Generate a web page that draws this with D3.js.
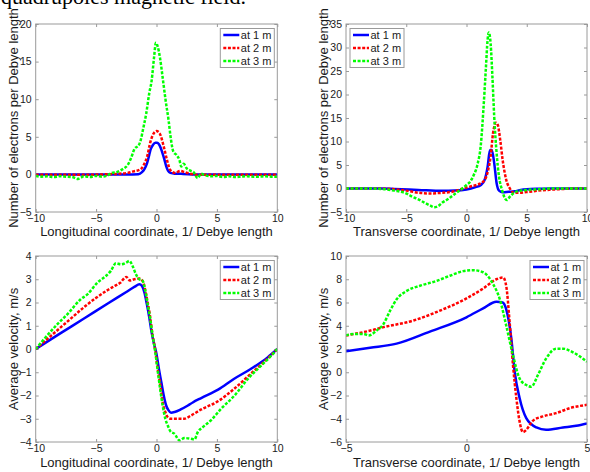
<!DOCTYPE html>
<html>
<head>
<meta charset="utf-8">
<script src="https://cdn.jsdelivr.net/npm/d3@7"></script>
<style>
  body { margin: 0; background: #fff; }
  svg { display: block; font-family: Arial, "Liberation Sans", sans-serif; }
</style>
</head>
<body>
<svg id="fig" width="590" height="472"></svg>
<script>
// legend / series
const seriesNames = ["at 1 m", "at 2 m", "at 3 m"];
const seriesColors = ["#0000ff", "#ff0000", "#00ff00"];

// tick values
const xTicksWide = [-10, -5, 0, 5, 10];
const xTicksNarrow = [-5, 0, 5];
const yTicksDensLong = [-5, 0, 5, 10, 15, 20];
const yTicksDensTrans = [-5, 0, 5, 10, 15, 20, 25, 30, 35];
const yTicksVelLong = [-4, -3, -2, -1, 0, 1, 2, 3, 4];
const yTicksVelTrans = [-6, -4, -2, 0, 2, 4, 6, 8, 10];

// top-left: electrons per Debye length vs longitudinal coordinate
const densLong1 = [[-10,0],[-8,0],[-6,0],[-4,0],[-2,0],[-1.5,0.02],[-1.2,0.3],[-1.0,0.7],[-0.78,1.5],[-0.6,2.6],[-0.5,3.25],[-0.3,3.9],[-0.1,4.2],[0.05,4.2],[0.2,4.0],[0.35,3.5],[0.5,2.8],[0.65,2.0],[0.8,1.1],[0.95,0.5],[1.15,0.2],[1.5,0.1],[1.8,0.1],[2.2,0.05],[3,0],[5,0],[7,0],[10,0]];
const densLong2 = [[-10,-0.05],[-8,-0.05],[-6,-0.05],[-4.5,0],[-3.5,0.05],[-2.4,0.2],[-1.9,0.4],[-1.33,0.67],[-1.06,1.25],[-0.78,2.35],[-0.5,4.35],[-0.23,5.46],[0,5.77],[0.26,5.46],[0.6,3.7],[0.87,1.9],[1.14,0.58],[1.55,0.2],[1.97,0.45],[2.38,0.27],[2.93,0.04],[3.5,-0.05],[5,-0.05],[7,-0.05],[10,-0.05]];
const densLong3 = [[-10,-0.2],[-9.5,-0.3],[-9,-0.25],[-8.5,-0.35],[-8,-0.25],[-7.5,-0.3],[-7,-0.35],[-6.5,-0.6],[-6,-0.25],[-5.5,-0.35],[-5,-0.2],[-4.5,-0.3],[-4,-0.1],[-3.7,0.2],[-3.3,0.3],[-3,0.5],[-2.7,0.8],[-2.4,1.2],[-2.1,2.2],[-1.8,3.45],[-1.5,3.8],[-1.3,4.6],[-1.1,6.1],[-0.85,8.1],[-0.6,10.8],[-0.4,12.5],[-0.2,15.6],[-0.05,17.5],[0.1,17.0],[0.3,15.4],[0.5,13.0],[0.75,9.9],[1.0,7.2],[1.2,4.6],[1.4,3.0],[1.65,2.6],[1.9,1.9],[2.05,1.05],[2.25,1.4],[2.5,0.8],[2.8,0.5],[3.1,0.25],[3.4,-0.5],[3.7,0.1],[4.0,-0.1],[4.5,-0.25],[5,-0.2],[5.5,-0.35],[6,-0.25],[6.5,-0.35],[7,-0.3],[7.5,-0.25],[8,-0.3],[8.5,-0.3],[9,-0.25],[9.5,-0.3],[10,-0.3]];

// top-right: electrons per Debye length vs transverse coordinate
const densTrans1 = [[-10,0],[-8,0],[-7,-0.02],[-6,-0.1],[-4,-0.3],[-2,-0.5],[-1,-0.45],[0,-0.2],[0.7,0.25],[1.2,0.75],[1.5,1.8],[1.75,4.6],[1.95,8.2],[2.1,8.2],[2.3,5.4],[2.5,1.1],[2.7,-0.45],[3.0,-0.8],[3.5,-0.7],[4,-0.6],[4.5,-0.3],[5,-0.15],[6,-0.05],[7,0],[10,0]];
const densTrans2 = [[-10,0],[-8,0],[-7,-0.05],[-6,-0.15],[-5,-0.45],[-4,-0.9],[-3,-1.05],[-2,-0.9],[-1,-0.6],[-0.5,-0.15],[0,0.2],[0.5,0.55],[1,0.9],[1.5,1.8],[1.8,3.95],[2.0,6.8],[2.2,11.7],[2.45,14.0],[2.6,13.5],[2.8,10.3],[3.0,6.05],[3.3,1.8],[3.6,0],[3.9,-0.9],[4.3,-0.9],[5,-0.75],[6,-0.45],[7,-0.25],[8,-0.1],[9,0],[10,0]];
const densTrans3 = [[-10,0],[-8,0],[-7,-0.1],[-6,-0.45],[-5,-1.05],[-4.5,-1.75],[-4,-2.3],[-3.5,-3.0],[-3,-3.65],[-2.7,-4.0],[-2.3,-3.65],[-2,-3.0],[-1.5,-2.2],[-1,-1.2],[-0.5,-0.3],[0,0.75],[0.3,1.45],[0.6,2.85],[0.9,5.0],[1.2,9.6],[1.4,16.7],[1.6,25.2],[1.75,31.6],[1.85,33.2],[2.0,30.9],[2.15,23.8],[2.3,15.3],[2.5,7.5],[2.7,2.5],[2.95,-0.3],[3.2,-2.15],[3.35,-2.45],[3.6,-1.75],[4.0,-0.8],[4.5,-0.45],[5,-0.3],[6,-0.15],[7,0],[10,0]];

// bottom-left: average velocity vs longitudinal coordinate
const velLong1 = [[-10,0],[-8,0.66],[-6,1.31],[-4,1.97],[-2.5,2.45],[-1.8,2.68],[-1.42,2.79],[-1.2,2.71],[-1.0,2.43],[-0.8,1.93],[-0.6,1.36],[-0.4,0.71],[-0.2,0.21],[0,-0.21],[0.2,-0.86],[0.4,-1.43],[0.6,-2.0],[0.8,-2.43],[1.0,-2.64],[1.2,-2.74],[1.5,-2.71],[2,-2.6],[2.6,-2.43],[3,-2.3],[3.7,-2.11],[5.1,-1.75],[6.4,-1.29],[7.8,-0.86],[9.2,-0.36],[10,0]];
const velLong2 = [[-10,0],[-9,0.45],[-8,0.9],[-7,1.35],[-6,1.8],[-5,2.2],[-4,2.55],[-3.5,2.7],[-3,2.85],[-2.5,3.1],[-2.2,2.95],[-1.84,3.0],[-1.42,3.03],[-1.15,2.93],[-0.95,2.57],[-0.73,2.0],[-0.54,1.43],[-0.32,0.57],[-0.12,0],[0.1,-0.86],[0.32,-1.57],[0.51,-2.29],[0.73,-2.71],[0.93,-2.93],[1.2,-3.0],[1.76,-3.0],[2.3,-3.0],[2.86,-2.86],[3.7,-2.6],[5.08,-2.25],[6.46,-1.7],[7.84,-1.05],[9.22,-0.4],[10,0]];
const velLong3 = [[-10,0],[-9.3,0.43],[-8.2,1.07],[-7.37,1.5],[-6.27,2.14],[-5.7,2.36],[-4.88,2.86],[-4.19,3.14],[-3.78,3.36],[-3.36,3.69],[-2.95,3.64],[-2.53,3.71],[-2.25,3.79],[-1.98,3.57],[-1.7,3.21],[-1.42,3.0],[-1.15,2.93],[-0.95,2.57],[-0.73,1.93],[-0.54,1.36],[-0.32,0.57],[-0.12,-0.07],[0.1,-0.93],[0.32,-1.79],[0.51,-2.43],[0.73,-3.0],[0.93,-3.29],[1.2,-3.57],[1.48,-3.64],[1.9,-3.93],[2.3,-3.83],[2.86,-3.86],[3.14,-3.89],[3.42,-3.57],[3.83,-3.36],[4.5,-3.07],[5.35,-2.57],[6.46,-2.0],[7.56,-1.29],[8.67,-0.71],[9.5,-0.29],[10,0]];

// bottom-right: average velocity vs transverse coordinate
const velTrans1 = [[-5,1.8],[-4,2.1],[-2.9,2.46],[-1.52,3.5],[0,4.73],[0.69,5.5],[1.24,6.07],[1.5,6.0],[1.65,5.4],[1.86,2.9],[2.0,0.04],[2.2,-2.2],[2.48,-3.95],[2.9,-4.75],[3.3,-4.95],[4.0,-4.75],[4.55,-4.6],[5,-4.4]];
const velTrans2 = [[-5,3.17],[-4.27,3.45],[-3.44,3.88],[-2.2,4.45],[-1.1,5.3],[0,6.35],[0.69,7.2],[1.24,8.0],[1.52,8.15],[1.65,7.4],[1.79,4.3],[1.93,0.6],[2.07,-2.24],[2.2,-4.2],[2.34,-5.15],[2.48,-4.95],[2.75,-4.18],[3.17,-3.8],[3.72,-3.52],[4.27,-3.1],[5,-2.8]];
const velTrans3 = [[-5,3.17],[-4.68,3.3],[-4.27,3.3],[-4.06,3.17],[-3.72,3.6],[-3.44,4.16],[-3.17,5.3],[-2.89,6.3],[-2.48,7.0],[-1.93,7.44],[-1.24,7.86],[-0.69,8.3],[-0.14,8.7],[0.28,8.78],[0.69,8.6],[1.1,7.6],[1.38,6.3],[1.65,4.0],[1.93,1.46],[2.2,-0.53],[2.48,-1.1],[2.69,-1.25],[2.96,-0.25],[3.3,1.17],[3.72,2.03],[4.0,2.03],[4.4,1.74],[5,0.9]];

const svg = d3.select("#fig");

// heading text cut off at the top of the page
svg.append("text")
  .attr("x", 1)
  .attr("y", 3.5)
  .style("font-family", "'Liberation Serif', 'Times New Roman', serif")
  .style("font-size", "22px")
  .attr("fill", "#000")
  .text("quadrupoles magnetic field.");

const panels = [
  { box: [35.7, 24, 277.3, 212], xDom: [-10, 10], yDom: [-5, 20], xTicks: xTicksWide, yTicks: yTicksDensLong,
    xLabel: "Longitudinal coordinate, 1/ Debye length", yLabel: "Number of electrons per Debye length",
    series: [densLong1, densLong2, densLong3], legend: "right", labelGap: 23.5 },
  { box: [346, 24, 587, 212], xDom: [-10, 10], yDom: [-5, 35], xTicks: xTicksWide, yTicks: yTicksDensTrans,
    xLabel: "Transverse coordinate, 1/ Debye length", yLabel: "Number of electrons per Debye length",
    series: [densTrans1, densTrans2, densTrans3], legend: "left", labelGap: 23.5 },
  { box: [35.7, 256, 277.3, 442], xDom: [-10, 10], yDom: [-4, 4], xTicks: xTicksWide, yTicks: yTicksVelLong,
    xLabel: "Longitudinal coordinate, 1/ Debye length", yLabel: "Average velocity, m/s",
    series: [velLong1, velLong2, velLong3], legend: "right", labelGap: 25 },
  { box: [346, 256, 587, 442], xDom: [-5, 5], yDom: [-6, 10], xTicks: xTicksNarrow, yTicks: yTicksVelTrans,
    xLabel: "Transverse coordinate, 1/ Debye length", yLabel: "Average velocity, m/s",
    series: [velTrans1, velTrans2, velTrans3], legend: "right", labelGap: 25 }
];

const axisColor = "#9a9a9a";

panels.forEach((p, pi) => {
  const [x0, y0, x1, y1] = p.box;
  const x = d3.scaleLinear().domain(p.xDom).range([x0, x1]);
  const y = d3.scaleLinear().domain(p.yDom).range([y1, y0]);
  const g = svg.append("g");

  svg.append("clipPath").attr("id", "clip" + pi)
    .append("rect").attr("x", x0).attr("y", y0).attr("width", x1 - x0).attr("height", y1 - y0);

  // axes with inward ticks on all four sides
  const bottom = g.append("g").attr("transform", `translate(0,${y1})`)
    .call(d3.axisBottom(x).tickValues(p.xTicks).tickSize(-3).tickPadding(3).tickFormat(d3.format("d")));
  const left = g.append("g").attr("transform", `translate(${x0},0)`)
    .call(d3.axisLeft(y).tickValues(p.yTicks).tickSize(-3).tickPadding(4).tickFormat(d3.format("d")));
  const top = g.append("g").attr("transform", `translate(0,${y0})`)
    .call(d3.axisTop(x).tickValues(p.xTicks).tickSize(-3).tickFormat(""));
  const right = g.append("g").attr("transform", `translate(${x1},0)`)
    .call(d3.axisRight(y).tickValues(p.yTicks).tickSize(-3).tickFormat(""));

  [bottom, left, top, right].forEach(a => {
    a.select(".domain").remove();
    a.selectAll(".tick line").attr("stroke", axisColor).attr("stroke-width", 1);
    a.selectAll(".tick text").attr("fill", "#1a1a1a").style("font-size", "10.5px")
      .style("font-family", "Arial, 'Liberation Sans', sans-serif");
  });

  // lines, drawn in series order so later ones sit on top
  const line = d3.line().x(d => x(d[0])).y(d => y(d[1])).curve(d3.curveMonotoneX);
  const lines = g.append("g").attr("clip-path", `url(#clip${pi})`);
  p.series.forEach((s, i) => {
    lines.append("path")
      .datum(s)
      .attr("fill", "none")
      .attr("stroke", seriesColors[i])
      .attr("stroke-width", 2.5)
      .attr("stroke-dasharray", i === 0 ? null : "3,1.6")
      .attr("d", line);
  });

  // frame
  g.append("rect")
    .attr("x", x0).attr("y", y0).attr("width", x1 - x0).attr("height", y1 - y0)
    .attr("fill", "none").attr("stroke", axisColor).attr("stroke-width", 1);

  // axis labels
  g.append("text")
    .attr("x", (x0 + x1) / 2)
    .attr("y", y1 + p.labelGap)
    .attr("text-anchor", "middle")
    .style("font-size", "13px")
    .attr("fill", "#1a1a1a")
    .text(p.xLabel);

  g.append("text")
    .attr("transform", `translate(${x0 - 18},${(y0 + y1) / 2}) rotate(-90)`)
    .attr("text-anchor", "middle")
    .style("font-size", "13px")
    .attr("fill", "#1a1a1a")
    .text(p.yLabel);

  // legend
  const lw = 54, lh = 39;
  const lx = p.legend === "right" ? x1 - lw - 3 : x0 + 4;
  const ly = y0 + 4.5;
  const leg = g.append("g").attr("transform", `translate(${lx},${ly})`);
  leg.append("rect").attr("width", lw).attr("height", lh)
    .attr("fill", "#fff").attr("stroke", axisColor).attr("stroke-width", 1);
  seriesNames.forEach((name, i) => {
    const ry = 6.5 + i * 13;
    leg.append("line")
      .attr("x1", 3).attr("x2", 19).attr("y1", ry).attr("y2", ry)
      .attr("stroke", seriesColors[i]).attr("stroke-width", 2.5)
      .attr("stroke-dasharray", i === 0 ? null : "3,1.6");
    leg.append("text")
      .attr("x", 20.5).attr("y", ry + 4)
      .style("font-size", "11px")
      .attr("fill", "#1a1a1a")
      .text(name);
  });
});
</script>
</body>
</html>
